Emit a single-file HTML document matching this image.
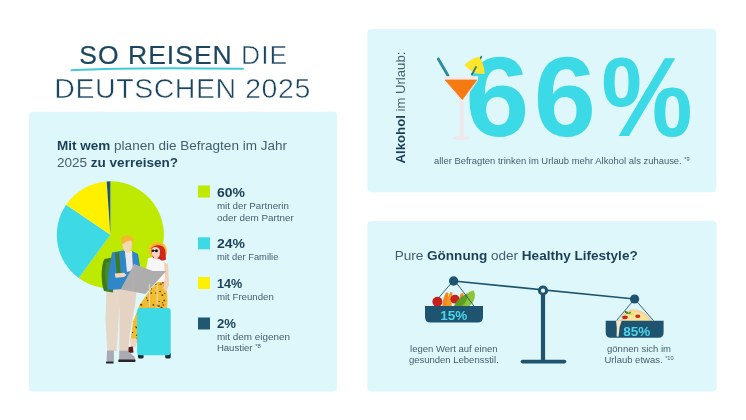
<!DOCTYPE html>
<html lang="de">
<head>
<meta charset="utf-8">
<title>So reisen die Deutschen 2025</title>
<style>
html,body{margin:0;padding:0;background:#fff;}
body{width:746px;height:420px;overflow:hidden;}
svg{display:block;}
text{font-family:"Liberation Sans",Arial,sans-serif;}
.b{font-weight:700;}
.nv{fill:#1b3f56;}
.rg{fill:#445e6d;}
</style>
</head>
<body>
<svg width="746" height="420" viewBox="0 0 746 420">
  <rect x="0" y="0" width="746" height="420" fill="#ffffff"/>
  <!-- panels -->
  <rect x="29" y="111.7" width="308.1" height="279.7" rx="4" fill="#ddf7fa"/>
  <rect x="367.4" y="29.1" width="349" height="163.2" rx="4" fill="#ddf7fa"/>
  <rect x="367.4" y="221" width="349.1" height="170.4" rx="4" fill="#ddf7fa"/>

  <!-- TITLE -->
  <g id="title">
    <text x="79.3" y="64.4" font-size="26.5" textLength="208" lengthAdjust="spacing" fill="#1b4660"><tspan stroke="#1b4660" stroke-width="0.2">SO REISEN</tspan><tspan stroke="#ffffff" stroke-width="0.5"> DIE</tspan></text>
    <path d="M71.5 70.2 C 110 68.2, 170 67.6, 243 68.8" stroke="#3fc9da" stroke-width="2" fill="none" stroke-linecap="round"/>
    <text x="54.3" y="98.1" font-size="28.5" textLength="256" lengthAdjust="spacing" fill="#1b4660" stroke="#ffffff" stroke-width="0.5">DEUTSCHEN 2025</text>
  </g>

  <!-- LEFT PANEL -->
  <text x="57" y="150.1" font-size="13" textLength="230" lengthAdjust="spacingAndGlyphs" class="rg"><tspan class="b nv">Mit wem</tspan> planen die Befragten im Jahr</text>
  <text x="57" y="166.8" font-size="13" textLength="121" lengthAdjust="spacingAndGlyphs" class="rg">2025 <tspan class="b nv">zu verreisen?</tspan></text>

  <!-- pie -->
  <g id="pie">
    <path d="M110.35 234.85 L110.35 181.3 A53.55 53.55 0 1 1 78.72 278.06 Z" fill="#bdea00"/>
    <path d="M110.35 234.85 L78.72 278.06 A53.55 53.55 0 0 1 66.11 204.67 Z" fill="#3ddae6"/>
    <path d="M110.35 234.85 L66.11 204.67 A53.55 53.55 0 0 1 106.71 181.42 Z" fill="#fff000"/>
    <path d="M110.35 234.85 L106.71 181.42 A53.55 53.55 0 0 1 110.35 181.3 Z" fill="#1f5870"/>
  </g>
  <g id="people">
    <!-- woman skirt (leopard) -->
    <clipPath id="skc"><path d="M159 280.5 L166.5 283 L167.5 300 L166 330 L160 342 L140 344 L130.5 341.5 L133 322 L139.5 305 L150 290 Z"/></clipPath>
    <path d="M159 280.5 L166.5 283 L167.5 300 L166 330 L160 342 L140 344 L130.5 341.5 L133 322 L139.5 305 L150 290 Z" fill="#f1bd2e"/>
    <g clip-path="url(#skc)"><ellipse cx="146.6" cy="316.4" rx="1.2" ry="0.7" fill="#5a340e"/><ellipse cx="148.8" cy="318.2" rx="0.7" ry="0.8" fill="#5a340e"/><ellipse cx="153.6" cy="331.5" rx="0.7" ry="0.7" fill="#5a340e"/><ellipse cx="132.5" cy="332.6" rx="1.0" ry="0.5" fill="#5a340e"/><ellipse cx="167.3" cy="342.7" rx="1.0" ry="0.8" fill="#5a340e"/><ellipse cx="135.1" cy="281.0" rx="0.9" ry="0.5" fill="#5a340e"/><ellipse cx="136.4" cy="295.7" rx="0.6" ry="0.7" fill="#5a340e"/><ellipse cx="146.2" cy="334.8" rx="0.9" ry="0.8" fill="#5a340e"/><ellipse cx="148.5" cy="323.1" rx="0.9" ry="0.6" fill="#5a340e"/><ellipse cx="167.9" cy="344.7" rx="1.1" ry="0.9" fill="#5a340e"/><ellipse cx="141.3" cy="294.9" rx="0.8" ry="0.5" fill="#5a340e"/><ellipse cx="158.9" cy="306.0" rx="1.1" ry="0.7" fill="#5a340e"/><ellipse cx="166.4" cy="335.1" rx="0.6" ry="0.6" fill="#5a340e"/><ellipse cx="164.5" cy="310.5" rx="1.2" ry="0.7" fill="#5a340e"/><ellipse cx="131.8" cy="320.9" rx="1.1" ry="0.6" fill="#5a340e"/><ellipse cx="132.4" cy="301.6" rx="1.2" ry="0.9" fill="#5a340e"/><ellipse cx="133.6" cy="296.0" rx="0.7" ry="0.5" fill="#5a340e"/><ellipse cx="160.1" cy="291.5" rx="0.9" ry="0.7" fill="#5a340e"/><ellipse cx="136.4" cy="327.6" rx="0.7" ry="0.8" fill="#5a340e"/><ellipse cx="133.5" cy="307.3" rx="0.7" ry="0.6" fill="#5a340e"/><ellipse cx="166.9" cy="332.2" rx="0.8" ry="0.9" fill="#5a340e"/><ellipse cx="137.2" cy="305.6" rx="1.1" ry="0.8" fill="#5a340e"/><ellipse cx="132.9" cy="344.3" rx="0.7" ry="0.6" fill="#5a340e"/><ellipse cx="159.1" cy="301.4" rx="0.8" ry="0.5" fill="#5a340e"/><ellipse cx="132.5" cy="317.9" rx="0.7" ry="0.8" fill="#5a340e"/><ellipse cx="143.5" cy="309.5" rx="1.2" ry="0.7" fill="#5a340e"/><ellipse cx="151.4" cy="336.3" rx="0.7" ry="0.6" fill="#5a340e"/><ellipse cx="164.4" cy="333.2" rx="0.7" ry="0.6" fill="#5a340e"/><ellipse cx="157.8" cy="341.1" rx="0.7" ry="1.0" fill="#5a340e"/><ellipse cx="163.4" cy="319.2" rx="0.9" ry="0.6" fill="#5a340e"/><ellipse cx="130.5" cy="342.6" rx="0.7" ry="0.9" fill="#5a340e"/><ellipse cx="139.0" cy="333.5" rx="1.0" ry="0.6" fill="#5a340e"/><ellipse cx="135.8" cy="326.8" rx="0.6" ry="0.6" fill="#5a340e"/><ellipse cx="150.8" cy="335.4" rx="1.0" ry="0.6" fill="#5a340e"/><ellipse cx="164.8" cy="293.3" rx="0.6" ry="0.6" fill="#5a340e"/><ellipse cx="146.4" cy="283.9" rx="0.7" ry="0.7" fill="#5a340e"/><ellipse cx="151.3" cy="288.6" rx="0.8" ry="0.9" fill="#5a340e"/><ellipse cx="167.2" cy="322.7" rx="1.0" ry="0.8" fill="#5a340e"/><ellipse cx="134.5" cy="282.3" rx="0.6" ry="1.0" fill="#5a340e"/><ellipse cx="156.3" cy="342.6" rx="0.6" ry="0.8" fill="#5a340e"/><ellipse cx="147.8" cy="327.5" rx="0.8" ry="1.0" fill="#5a340e"/><ellipse cx="131.9" cy="315.5" rx="1.0" ry="1.0" fill="#5a340e"/><ellipse cx="157.7" cy="325.7" rx="1.1" ry="1.0" fill="#5a340e"/><ellipse cx="142.7" cy="324.5" rx="1.1" ry="0.9" fill="#5a340e"/><ellipse cx="145.3" cy="331.4" rx="1.1" ry="0.8" fill="#5a340e"/><ellipse cx="153.4" cy="304.9" rx="0.9" ry="0.8" fill="#5a340e"/><ellipse cx="132.1" cy="321.6" rx="1.2" ry="0.9" fill="#5a340e"/><ellipse cx="157.4" cy="305.2" rx="1.0" ry="0.8" fill="#5a340e"/><ellipse cx="146.2" cy="334.5" rx="0.7" ry="0.9" fill="#5a340e"/><ellipse cx="130.2" cy="319.1" rx="0.9" ry="0.6" fill="#5a340e"/><ellipse cx="156.2" cy="312.3" rx="1.0" ry="1.0" fill="#5a340e"/><ellipse cx="139.0" cy="280.7" rx="0.8" ry="0.8" fill="#5a340e"/><ellipse cx="136.9" cy="291.0" rx="1.1" ry="0.8" fill="#5a340e"/><ellipse cx="146.2" cy="338.0" rx="0.8" ry="0.8" fill="#5a340e"/><ellipse cx="136.7" cy="308.0" rx="1.1" ry="1.0" fill="#5a340e"/><ellipse cx="163.3" cy="305.0" rx="0.9" ry="0.7" fill="#5a340e"/><ellipse cx="134.3" cy="312.3" rx="1.1" ry="0.9" fill="#5a340e"/><ellipse cx="156.7" cy="341.8" rx="0.8" ry="0.6" fill="#5a340e"/><ellipse cx="146.6" cy="297.9" rx="0.7" ry="0.7" fill="#5a340e"/><ellipse cx="153.4" cy="312.1" rx="0.8" ry="0.9" fill="#5a340e"/><ellipse cx="167.3" cy="309.4" rx="0.6" ry="0.5" fill="#5a340e"/><ellipse cx="163.0" cy="282.7" rx="1.0" ry="0.8" fill="#5a340e"/><ellipse cx="141.1" cy="331.4" rx="0.6" ry="0.6" fill="#5a340e"/><ellipse cx="146.7" cy="281.6" rx="1.1" ry="0.6" fill="#5a340e"/><ellipse cx="134.5" cy="283.1" rx="1.0" ry="0.7" fill="#5a340e"/><ellipse cx="153.6" cy="322.6" rx="1.1" ry="1.0" fill="#5a340e"/><ellipse cx="155.7" cy="293.0" rx="0.9" ry="0.6" fill="#5a340e"/><ellipse cx="129.4" cy="310.7" rx="1.0" ry="0.6" fill="#5a340e"/><ellipse cx="139.6" cy="302.5" rx="1.0" ry="0.8" fill="#5a340e"/><ellipse cx="153.0" cy="329.2" rx="0.8" ry="0.9" fill="#5a340e"/><ellipse cx="164.3" cy="285.7" rx="1.2" ry="0.9" fill="#5a340e"/><ellipse cx="134.1" cy="309.5" rx="1.0" ry="1.0" fill="#5a340e"/><ellipse cx="143.7" cy="317.0" rx="1.1" ry="0.9" fill="#5a340e"/><ellipse cx="165.8" cy="310.1" rx="1.0" ry="0.6" fill="#5a340e"/><ellipse cx="157.2" cy="333.2" rx="1.0" ry="0.9" fill="#5a340e"/><ellipse cx="137.3" cy="338.5" rx="1.2" ry="1.0" fill="#5a340e"/><ellipse cx="149.9" cy="331.4" rx="0.8" ry="1.0" fill="#5a340e"/><ellipse cx="162.4" cy="302.7" rx="0.6" ry="0.7" fill="#5a340e"/><ellipse cx="150.5" cy="329.9" rx="0.9" ry="0.5" fill="#5a340e"/><ellipse cx="160.6" cy="284.2" rx="1.1" ry="0.6" fill="#5a340e"/><ellipse cx="142.1" cy="331.2" rx="0.7" ry="0.6" fill="#5a340e"/><ellipse cx="149.1" cy="327.0" rx="1.1" ry="0.8" fill="#5a340e"/><ellipse cx="165.9" cy="312.0" rx="1.2" ry="0.5" fill="#5a340e"/><ellipse cx="137.6" cy="314.2" rx="0.8" ry="0.9" fill="#5a340e"/><ellipse cx="153.9" cy="314.0" rx="1.1" ry="0.8" fill="#5a340e"/><ellipse cx="141.2" cy="304.8" rx="1.1" ry="1.0" fill="#5a340e"/><ellipse cx="137.1" cy="335.3" rx="1.2" ry="0.8" fill="#5a340e"/><ellipse cx="151.3" cy="293.1" rx="0.9" ry="0.8" fill="#5a340e"/><ellipse cx="152.6" cy="281.8" rx="1.2" ry="0.8" fill="#5a340e"/><ellipse cx="144.6" cy="332.1" rx="0.9" ry="0.7" fill="#5a340e"/><ellipse cx="155.9" cy="284.3" rx="0.9" ry="0.7" fill="#5a340e"/><ellipse cx="166.3" cy="340.0" rx="0.8" ry="0.7" fill="#5a340e"/><ellipse cx="134.0" cy="308.2" rx="1.1" ry="1.0" fill="#5a340e"/><ellipse cx="147.6" cy="300.6" rx="0.7" ry="0.8" fill="#5a340e"/><ellipse cx="165.1" cy="288.4" rx="1.1" ry="0.5" fill="#5a340e"/><ellipse cx="136.6" cy="294.8" rx="1.0" ry="0.7" fill="#5a340e"/><ellipse cx="142.9" cy="320.3" rx="0.7" ry="0.9" fill="#5a340e"/><ellipse cx="133.8" cy="313.2" rx="0.8" ry="0.6" fill="#5a340e"/><ellipse cx="149.7" cy="308.4" rx="0.8" ry="0.7" fill="#5a340e"/><ellipse cx="149.6" cy="290.4" rx="0.7" ry="0.8" fill="#5a340e"/><ellipse cx="153.9" cy="314.4" rx="1.1" ry="0.8" fill="#5a340e"/><ellipse cx="162.4" cy="295.1" rx="1.0" ry="0.9" fill="#5a340e"/><ellipse cx="164.2" cy="300.5" rx="0.8" ry="1.0" fill="#5a340e"/><ellipse cx="137.5" cy="344.9" rx="1.1" ry="0.6" fill="#5a340e"/><ellipse cx="138.3" cy="327.2" rx="0.8" ry="0.5" fill="#5a340e"/><ellipse cx="161.5" cy="307.4" rx="1.1" ry="0.6" fill="#5a340e"/><ellipse cx="144.7" cy="324.5" rx="0.6" ry="0.6" fill="#5a340e"/><ellipse cx="155.6" cy="339.2" rx="1.2" ry="0.6" fill="#5a340e"/><ellipse cx="148.7" cy="329.3" rx="0.9" ry="0.8" fill="#5a340e"/><ellipse cx="136.4" cy="284.6" rx="0.7" ry="0.5" fill="#5a340e"/><ellipse cx="150.5" cy="313.5" rx="0.9" ry="0.6" fill="#5a340e"/><ellipse cx="136.2" cy="293.3" rx="1.1" ry="1.0" fill="#5a340e"/><ellipse cx="165.1" cy="286.2" rx="0.6" ry="1.0" fill="#5a340e"/><ellipse cx="147.0" cy="329.7" rx="0.8" ry="0.7" fill="#5a340e"/><ellipse cx="149.1" cy="308.0" rx="1.0" ry="0.5" fill="#5a340e"/><ellipse cx="156.3" cy="334.9" rx="0.7" ry="0.7" fill="#5a340e"/><ellipse cx="157.8" cy="306.3" rx="0.7" ry="0.6" fill="#5a340e"/><ellipse cx="149.0" cy="281.0" rx="1.1" ry="0.9" fill="#5a340e"/><ellipse cx="156.5" cy="335.9" rx="1.0" ry="0.7" fill="#5a340e"/><ellipse cx="152.4" cy="312.8" rx="1.2" ry="0.9" fill="#5a340e"/></g>
    <!-- woman foot -->
    <path d="M130 338.5 L137 338.5 L136 347.5 L131 347.5 Z" fill="#f3d3bf"/>
    <path d="M127.3 347.2 L132.8 346.6 L133.6 352.6 L126.8 353.3 Z" fill="#5c1a18"/>
    <!-- woman top -->
    <path d="M148 258 L160 256 L166 259 L168 270 L166 282 L150 282 L146 270 Z" fill="#f6f6f6"/>
    <!-- woman arm -->
    <path d="M164 262 L168 264 L169 285 L166 292 L163 288 L165 276 Z" fill="#f3cfb3"/>
    <!-- woman hat brim -->
    <path d="M148.5 252 C148 245,153 241.5,158 241.8 C163.5 242,167.5 246.5,167 252.5 C166.5 256,164 257.5,162 257 L152 256 C150 255.5,148.7 254,148.5 252 Z" fill="#f6c22c"/>
    <path d="M150.5 249 C151.5 245.5,154.5 244,158 244 C161.5 244,164.5 246.5,165 250" stroke="#f0a626" stroke-width="1" fill="none"/>
    <!-- woman hair -->
    <path d="M151 251 C151 246.5,155 245,159 245.2 C163 245.5,165.5 248.5,165.5 252 L166 259.5 C164 261,161 261,159.5 259 L153 258 Z" fill="#d1261c"/>
    <!-- woman face -->
    <path d="M151.5 249.5 C152 247.5,154 246.8,156 247 C158.5 247.3,160 249,160 251.5 L159.5 256 C158.5 258,156 258.5,154 257.5 L152 255 Z" fill="#f5d6c2"/>
    <circle cx="153" cy="250.8" r="1.2" fill="#161616"/>
    <circle cx="156.4" cy="250.7" r="1.55" fill="#161616"/>
    <path d="M153.8 250.6 L155.2 250.6" stroke="#161616" stroke-width="0.6"/>
    <rect x="154.5" y="256.5" width="3" height="3" fill="#f5d6c2"/>

    <!-- man pants -->
    <path d="M106.5 288 L121.5 288 L118.6 320 L116.7 351 L107.3 351 L105.5 320 Z" fill="#e7d7c7"/>
    <path d="M119.5 288 L137 288 L135 305 L129.5 335 L128.4 351 L119.3 351 L119.6 320 Z" fill="#e4d3c2"/>
    <!-- man shoes -->
    <path d="M107 350.5 L113.8 350.5 L114 361.8 L106.6 361.8 Z" fill="#aaaab3"/>
    <path d="M119.3 350.8 L127.8 350.8 L134.5 356.8 L135.3 360 L119 360 Z" fill="#aaaab3"/>
    <rect x="106" y="361.5" width="7.6" height="2" rx="0.6" fill="#26262b"/>
    <rect x="118.2" y="359.6" width="17.3" height="2.5" rx="0.8" fill="#26262b"/>
    <!-- backpack -->
    <path d="M104.5 259 C100.5 265,101 283,104 291 L113 292.5 L115 257 Z" fill="#3d7a1e"/>
    <path d="M106.5 262 C104.5 270,105 282,107.5 289 L110 289.5 L110 262 Z" fill="#4a8a28"/>
    <!-- jacket -->
    <path d="M112 252.5 L125 250 L127 268 L131 268 L132 251 L138 254 L141 272 L140 288 L107.5 290 L108.5 272 Z" fill="#2f86c8"/>
    <!-- strap -->
    <path d="M115 253 L119 252 L121 276 L117 276 Z" fill="#3e7a1f"/>
    <!-- shirt -->
    <path d="M125 251 L132 251 L133 270 L127 272 Z" fill="#ebe9ef"/>
    <!-- face -->
    <path d="M122.5 240 L132 240 L131.5 249 L128.5 252 L124 251 L122.5 246 Z" fill="#f5d6b8"/>
    <rect x="126" y="250" width="4" height="3" fill="#f5d6b8"/>
    <!-- hair -->
    <path d="M121 242 C120 237,124.5 234.8,128.5 235.5 C132.5 236,134.5 238.5,133 242.5 L130.5 240.5 L126.5 241.5 L123 244 Z" fill="#f5b82a"/>
    <!-- map -->
    <path d="M134.1 264.1 L152.8 271.1 L166.2 271.1 L155 283.4 L145.3 294 L120.7 289.3 L128.2 275.3 Z" fill="#adadad"/>
    <path d="M134.1 264.1 L133 291" stroke="#b3b3b3" stroke-width="0.7"/>
    <!-- man hand -->
    <path d="M114.8 273.5 L124 272.7 L126.6 275 L124 277 L115.5 277.8 Z" fill="#f5d6b8"/>
    <!-- suitcase -->
    <path d="M149.4 284 L149.4 309 M157.1 284 L157.1 309" stroke="#eadfc4" stroke-width="0.9"/>
    <rect x="138" y="352" width="5.6" height="6.6" rx="1.6" fill="#1f2a30"/>
    <rect x="165.2" y="352" width="5.5" height="6.6" rx="1.6" fill="#1f2a30"/>
    <rect x="137.1" y="307.9" width="33.6" height="47.3" rx="3.2" fill="#3ddae5"/>
  </g>

  <!-- legend -->
  <rect x="198" y="185.5" width="12" height="12" fill="#bdea00"/>
  <rect x="198" y="237.3" width="12" height="12" fill="#3ddae6"/>
  <rect x="198" y="277" width="12" height="12" fill="#fff000"/>
  <rect x="198" y="317.5" width="12" height="12" fill="#1f5870"/>
  <g font-size="12.5" class="b nv">
    <text x="216.9" y="196.7" textLength="28" lengthAdjust="spacingAndGlyphs">60%</text>
    <text x="216.9" y="248.3" textLength="28" lengthAdjust="spacingAndGlyphs">24%</text>
    <text x="216.9" y="288" textLength="25.3" lengthAdjust="spacingAndGlyphs">14%</text>
    <text x="216.9" y="327.7" textLength="19" lengthAdjust="spacingAndGlyphs">2%</text>
  </g>
  <g font-size="9.5" class="rg">
    <text x="216.9" y="208.8" textLength="72" lengthAdjust="spacingAndGlyphs">mit der Partnerin</text>
    <text x="216.9" y="220.5" textLength="77" lengthAdjust="spacingAndGlyphs">oder dem  Partner</text>
    <text x="216.9" y="259.7" textLength="61.5" lengthAdjust="spacingAndGlyphs">mit der Familie</text>
    <text x="216.9" y="300.3" textLength="57" lengthAdjust="spacingAndGlyphs">mit Freunden</text>
    <text x="216.9" y="339.8" textLength="73" lengthAdjust="spacingAndGlyphs">mit dem eigenen</text>
    <text x="216.9" y="351.3" textLength="44" lengthAdjust="spacingAndGlyphs">Haustier <tspan font-size="6" dy="-3">*8</tspan></text>
  </g>

  <!-- RIGHT TOP -->
  
  <text transform="translate(405.4 163.4) rotate(-90)" x="0" y="0" font-size="13" textLength="111.8" lengthAdjust="spacingAndGlyphs" class="rg"><tspan class="b nv">Alkohol</tspan> im Urlaub:</text>
  <g font-size="113" class="b" fill="#3cdae6">
    <text transform="translate(465.3 136.2) scale(1.02 1)">6</text>
    <text transform="translate(533.8 136.2) scale(0.99 1)">6</text>
    <text transform="translate(601.3 135.8) scale(0.91 1)">%</text>
  </g>
  <g id="cocktail">
    <path d="M438.3 59 L448 75.5" stroke="#2a8c9d" stroke-width="2.8" stroke-linecap="round"/>
    <path d="M481.3 56.8 L472 74.5" stroke="#2a7f90" stroke-width="1.8" stroke-linecap="round"/>
    <path d="M464.3 65 C469 60.5,474.5 57.5,479 56.8 C482.5 61.5,484.5 67.5,484.6 74 L474.2 73.3 C470.5 70.5,467.2 67.8,464.3 65 Z" fill="#fde52a"/>
    <path d="M476 67 L472 74.5" stroke="#2a7f90" stroke-width="1.8" stroke-linecap="round"/>
    <path d="M443.2 76.3 L478.2 76.3 L477.8 80.5 L463.5 101.5 L460.5 101.5 L444 80.5 Z" fill="#f5ebec"/>
    <path d="M445.2 80 L476.8 80 L462.3 99.6 Z" fill="#f67a12" stroke="#f67a12" stroke-width="0.8" stroke-linejoin="round"/>
    <rect x="459.6" y="101" width="4" height="36" fill="#efe7ec"/>
    <ellipse cx="461.4" cy="138" rx="9" ry="2" fill="#efe7ec"/>
  </g>
  <text x="434" y="164" font-size="9.3" textLength="255.6" lengthAdjust="spacingAndGlyphs" class="rg">aller Befragten trinken im Urlaub mehr Alkohol als zuhause. <tspan font-size="5.5" dy="-3">*9</tspan></text>

  <!-- RIGHT BOTTOM -->
  <g id="scale">
    <line x1="453.6" y1="281" x2="634.6" y2="299" stroke="#1e5470" stroke-width="1.7"/>
    <line x1="543" y1="291" x2="543" y2="361.5" stroke="#1e5470" stroke-width="4.2"/>
    <line x1="522.5" y1="361.6" x2="564.5" y2="361.6" stroke="#1e5470" stroke-width="3.6" stroke-linecap="round"/>
    <circle cx="543" cy="290.5" r="5.1" fill="#1e5470"/>
    <circle cx="543" cy="290.7" r="2.1" fill="#e4f8fb"/>
    <!-- left basket -->
    <circle cx="437.4" cy="301.8" r="5" fill="#c8201f"/>
    <path d="M442.3 306 C442.8 300,444.3 295,446.3 292.3 L448.5 293 C448 298,447.6 302,447.6 306 Z" fill="#f5871f"/>
    <path d="M446.5 306 C447 300,448.5 295,450.5 291.8 L452.6 292.6 C452 298,451.6 302,451.6 306 Z" fill="#f39a22"/>
    <ellipse cx="455" cy="299.2" rx="4.6" ry="4.4" fill="#c92020"/>
    <path d="M459 306 L460.3 294 L463.5 292.8 L463.2 306 Z" fill="#f5871f"/>
    <path d="M460 306 C461 298,466 292,473.6 290.5 C476.2 295,474.8 302,469.5 306 Z" fill="#8cc43a"/>
    <path d="M454 306 C457 300,461 296,467 293.8 C468.2 298,466.2 303,462 306 Z" fill="#5e9e25"/>
    <path d="M453 281 L438.5 298 M455 281 L474 306" stroke="#1e5470" stroke-width="0.9" fill="none"/>
    <path d="M425 306 L483 306 L483 317 Q483 322.5 477.5 322.5 L430.5 322.5 Q425 322.5 425 317 Z" fill="#1e5470"/>
    <text x="453.8" y="319.6" font-size="13.5" text-anchor="middle" class="b" fill="#4fd5ea">15%</text>
    <!-- right basket -->
    <path d="M634.6 299 L616.4 320.8 M634.6 299 L653.6 320.8" stroke="#1e5470" stroke-width="0.9" fill="none"/>
    <path d="M619.5 321 C622 313,628 309.3,634 309.3 C641 309.3,648 314,652 321 Z" fill="#f1d6a2"/>
    <path d="M621.5 321 C624 315,629 311.8,634 311.8 C640 311.8,645.5 315.5,649 321 Z" fill="#f9e39a"/>
    <ellipse cx="625" cy="317.3" rx="2.8" ry="1.9" fill="#c8281c"/>
    <ellipse cx="637.8" cy="316.2" rx="2.6" ry="1.7" fill="#c8281c"/>
    <path d="M629 314.5 C631 313,633 312.8,634.5 314 C632.5 315.5,630.5 315.5,629 314.5 Z" fill="#f3d23c"/>
    <ellipse cx="626.4" cy="312.4" rx="1.9" ry="1.1" transform="rotate(35 626.4 312.4)" fill="#3f7f1e"/>
    <ellipse cx="629.6" cy="312.9" rx="1.7" ry="1" transform="rotate(-30 629.6 312.9)" fill="#5f9f2a"/>
    <path d="M605.7 320.8 L663.6 320.8 L663.6 332.5 Q663.6 337.8 658.3 337.8 L611 337.8 Q605.7 337.8 605.7 332.5 Z" fill="#1e5470"/>
    <path d="M616 320.5 L621.8 320.5 L619.6 327 L618.6 336.5 L616.6 336.5 L616.8 328 Z" fill="#f6e7c6"/>
    <text x="636.8" y="335.5" font-size="13.5" text-anchor="middle" class="b" fill="#4fd5ea">85%</text>
    <circle cx="453.6" cy="281" r="4.7" fill="#1e5470"/>
    <circle cx="634.6" cy="299" r="4.6" fill="#1e5470"/>
  </g>
  <text x="394.7" y="259.7" font-size="13" textLength="243" lengthAdjust="spacingAndGlyphs" class="rg">Pure <tspan class="b nv">Gönnung</tspan> oder <tspan class="b nv">Healthy Lifestyle?</tspan></text>

  <g font-size="9.5" class="rg" text-anchor="middle">
    <text x="453.8" y="351.9">legen Wert auf einen</text>
    <text x="453.8" y="363.1">gesunden Lebensstil.</text>
    <text x="639" y="351.8">gönnen sich im</text>
    <text x="639" y="363.1">Urlaub etwas. <tspan font-size="5.5" dy="-3">*10</tspan></text>
  </g>
</svg>
</body>
</html>
